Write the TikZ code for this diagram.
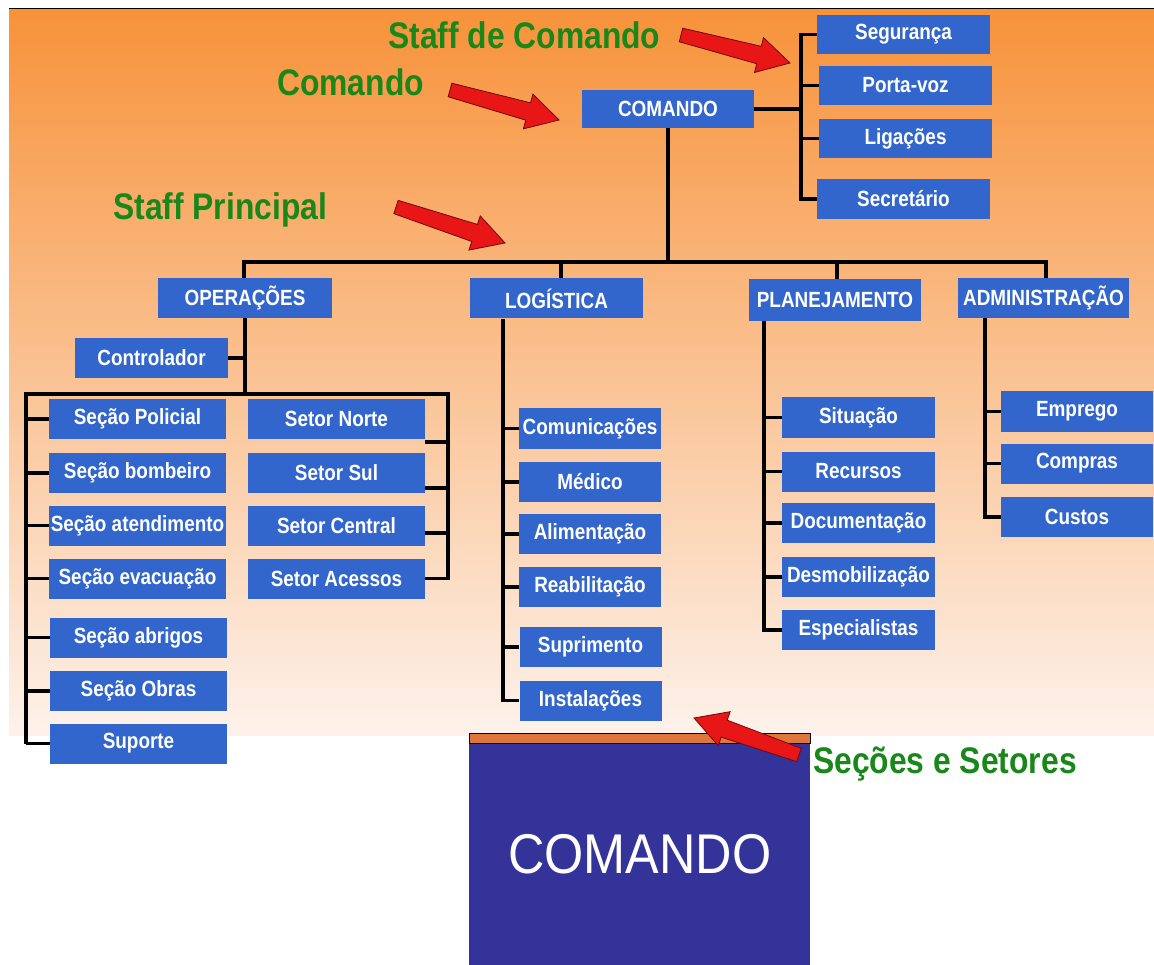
\documentclass[tikz,border=0pt]{standalone}
\usepackage{fontspec}
\setmainfont{Liberation Sans}
\newfontfamily\boxfont{Liberation Sans}[FakeStretch=0.86]
\newfontfamily\bigfont{Liberation Sans}[FakeStretch=0.9]
\usetikzlibrary{calc}
\definecolor{boxblue}{RGB}{51,102,204}
\definecolor{labgreen}{RGB}{25,135,25}
\definecolor{arrowred}{RGB}{232,22,22}
\definecolor{arrowedge}{RGB}{110,10,10}
\definecolor{bgtop}{RGB}{247,146,58}
\definecolor{bgbot}{RGB}{253,242,235}
\definecolor{bigblue}{RGB}{51,51,153}
\definecolor{stripor}{RGB}{224,118,60}
\newcommand{\redblockarrow}[2]{%
  \coordinate (ra-n) at ($(#2)!32pt!(#1)$);
  \filldraw[arrowfill] ($(#1)!7pt!90:(#2)$) -- ($(ra-n)!9pt!90:(#2)$) -- ($(ra-n)!18pt!90:(#2)$) -- (#2)
    -- ($(ra-n)!18pt!-90:(#2)$) -- ($(ra-n)!9pt!-90:(#2)$) -- ($(#1)!7pt!-90:(#2)$) -- cycle;}
\begin{document}
\begin{tikzpicture}[x=1pt,y=-1pt,
  box/.style={fill=boxblue, text=white, font=\boxfont\bfseries\fontsize{22}{24}\selectfont, inner sep=0pt, minimum height=40pt},
  lbl/.style={text=labgreen, font=\boxfont\bfseries\fontsize{37}{40}\selectfont, anchor=base west, inner sep=0pt},
  conn/.style={line width=3.5pt, black, line join=miter},
  arrowfill/.style={fill=arrowred, draw=arrowedge, line width=0.8pt, line join=miter}]
\useasboundingbox (0,0) rectangle (1154,965);
\fill[white] (0,0) rectangle (1154,965);
\shade[top color=bgtop, bottom color=bgbot] (9,9) rectangle (1154,735);
\draw[line width=1pt] (9,9) -- (1154,9);

% top level
\node[box, minimum width=172pt, minimum height=38pt] (cmd) at (668,109) {COMANDO};
\node[box, minimum width=173pt, minimum height=39pt] (seg) at (903.5,34.5) {Segurança};
\node[box, minimum width=173pt, minimum height=39pt] (porta) at (905.5,85.5) {Porta-voz};
\node[box, minimum width=173pt, minimum height=39pt] (lig) at (905.5,138.5) {Ligações};
\node[box, minimum width=173pt] (secr) at (903.5,199) {Secretário};

% staff principal
\node[box, minimum width=174pt] (ops) at (245,298) {OPERAÇÕES};
\node[box, minimum width=173pt] (log) at (556.5,298.5) {LOGÍSTICA};
\node[box, minimum width=172pt, minimum height=42pt] (plan) at (835,300) {PLANEJAMENTO};
\node[box, minimum width=171pt] (adm) at (1043.5,298) {ADMINISTRAÇÃO};

% operations
\node[box, minimum width=153pt] (ctrl) at (151.5,358) {Controlador};
\node[box, minimum width=177pt] (spol) at (137.5,419) {Seção Policial};
\node[box, minimum width=177pt] (sbom) at (137.5,473) {Seção bombeiro};
\node[box, minimum width=177pt] (sate) at (137.5,525.5) {Seção atendimento};
\node[box, minimum width=177pt] (seva) at (137.5,578.5) {Seção evacuação};
\node[box, minimum width=177pt] (sabr) at (138.5,637.5) {Seção abrigos};
\node[box, minimum width=177pt] (sobr) at (138.5,691) {Seção Obras};
\node[box, minimum width=177pt] (ssup) at (138.5,743.5) {Suporte};
\node[box, minimum width=177pt] (snor) at (336.5,419) {Setor Norte};
\node[box, minimum width=177pt] (ssul) at (336.5,473) {Setor Sul};
\node[box, minimum width=177pt] (scen) at (336.5,525.5) {Setor Central};
\node[box, minimum width=177pt] (sace) at (336.5,578.5) {Setor Acessos};

% logistics
\node[box, minimum width=142pt] (lcom) at (590,428.5) {Comunicações};
\node[box, minimum width=142pt] (lmed) at (590,482) {Médico};
\node[box, minimum width=142pt] (lali) at (590,534) {Alimentação};
\node[box, minimum width=142pt] (lrea) at (590,587) {Reabilitação};
\node[box, minimum width=142pt] (lsup) at (590.5,647) {Suprimento};
\node[box, minimum width=142pt] (lins) at (590.5,700.5) {Instalações};

% planning
\node[box, minimum width=153pt] (psit) at (858.5,417.5) {Situação};
\node[box, minimum width=153pt] (prec) at (858.5,471.5) {Recursos};
\node[box, minimum width=153pt] (pdoc) at (858.5,523) {Documentação};
\node[box, minimum width=153pt] (pdes) at (858.5,577) {Desmobilização};
\node[box, minimum width=153pt] (pesp) at (858.5,630) {Especialistas};

% administration
\node[box, minimum width=152pt] (aemp) at (1077,411.5) {Emprego};
\node[box, minimum width=152pt] (acom) at (1077,463.5) {Compras};
\node[box, minimum width=152pt] (acus) at (1077,517) {Custos};

% connectors: command
\coordinate (brk) at (801,107);
\draw[conn] (cmd.east) -- (cmd.east -| brk);
\draw[conn] (seg.west) -- (seg.west -| brk) -- (brk |- secr.west) -- (secr.west);
\draw[conn] (porta.west) -- (porta.west -| brk);
\draw[conn] (lig.west) -- (lig.west -| brk);

\coordinate (busL) at (244,262);
\coordinate (busR) at (1046,262);
\coordinate (dLog) at (561,262);
\coordinate (dPlan) at (837,262);
\draw[conn] (busL |- ops.north) -- (busL) -- (busR) -- (busR |- adm.north);
\draw[conn] (cmd.south) -- (cmd.south |- busL);
\draw[conn] (dLog) -- (dLog |- log.north);
\draw[conn] (dPlan) -- (dPlan |- plan.north);

% connectors: operations
\coordinate (b2L) at (26,394);
\coordinate (b2R) at (448,394);
\draw[conn] (ops.south) -- (ops.south |- b2L);
\draw[conn] (ctrl.east) -- (ctrl.east -| ops.south);
\draw[conn] (b2L |- ssup.west) -- (b2L) -- (b2R) -- (b2R |- sace.east) -- (sace.east);
\foreach \n in {spol,sbom,sate,seva,sabr,sobr,ssup} {\draw[conn] (\n.west) -- (\n.west -| b2L);}
\coordinate (tN) at ($(snor.east)+(0,23)$);
\coordinate (tS) at ($(ssul.east)+(0,15)$);
\coordinate (tC) at ($(scen.east)+(0,7.5)$);
\draw[conn] (tN) -- (tN -| b2R);
\draw[conn] (tS) -- (tS -| b2R);
\draw[conn] (tC) -- (tC -| b2R);

% connectors: logistics
\coordinate (logX) at (503,0);
\draw[conn] (logX |- log.south) -- (logX |- lins.west) -- (lins.west);
\foreach \n in {lcom,lmed,lali,lrea,lsup} {\draw[conn] (\n.west) -- (\n.west -| logX);}

% connectors: planning
\coordinate (planX) at (764,0);
\draw[conn] (planX |- plan.south) -- (planX |- pesp.west) -- (pesp.west);
\foreach \n in {psit,prec,pdoc,pdes} {\draw[conn] (\n.west) -- (\n.west -| planX);}

% connectors: administration
\coordinate (admX) at (985,0);
\draw[conn] (admX |- adm.south) -- (admX |- acus.west) -- (acus.west);
\foreach \n in {aemp,acom} {\draw[conn] (\n.west) -- (\n.west -| admX);}

% big command box
\node[fill=bigblue, text=white, font=\bigfont\fontsize{56}{60}\selectfont, minimum width=341pt, minimum height=222pt, inner sep=0pt, anchor=north west] (big) at (469,743) {COMANDO};
\filldraw[fill=stripor, draw=black, line width=0.8pt] (469,733) rectangle (810,743);

% labels
\node[lbl] (tStaffCmd) at (388,49) {Staff de Comando};
\node[lbl] (tCmd) at (277,96) {Comando};
\node[lbl] (tStaffP) at (113,220) {Staff Principal};
\node[lbl] (tSec) at (813,773) {Seções e Setores};

% arrows
\coordinate (aT1) at (681,35); \coordinate (aH1) at (790,63);
\coordinate (aT2) at (450,90); \coordinate (aH2) at (559,120);
\coordinate (aT3) at (396,207); \coordinate (aH3) at (505,243);
\coordinate (aT4) at (799,755); \coordinate (aH4) at (694,718);
\redblockarrow{aT1}{aH1}
\redblockarrow{aT2}{aH2}
\redblockarrow{aT3}{aH3}
\redblockarrow{aT4}{aH4}
\end{tikzpicture}
\end{document}
